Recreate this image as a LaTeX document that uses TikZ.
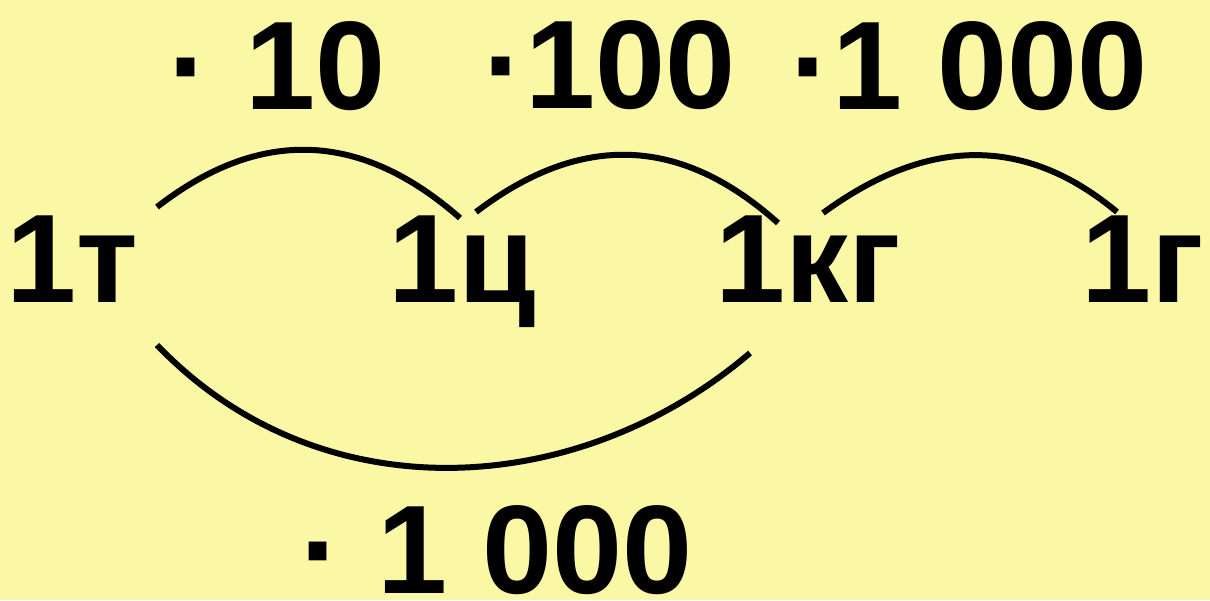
\documentclass[tikz,border=0pt]{standalone}
\usepackage{fontspec}
\setmainfont{Liberation Sans}
\definecolor{bg}{HTML}{FAF8A4}
\begin{document}
\begin{tikzpicture}[x=1pt,y=-1pt,
  lbl/.style={anchor=base west,inner sep=0pt,font=\fontsize{126}{126}\selectfont\bfseries},
  arcline/.style={line width=6pt,black}]
\fill[bg] (0,0) rectangle (1210,600);
\useasboundingbox (0,0) rectangle (1210,600);
% units
\node[lbl] (t) at (6,302) {1т};
\node[lbl] (c) at (388,302) {1ц};
\node[lbl] (kg) at (715,302) {1кг};
\node[lbl] (g) at (1081,302) {1г};
% factors
\node[lbl] (f1) at (168,109) {· 10};
\node[lbl] (f2) at (483,108) {·100};
\node[lbl] (f3) at (790,109) {·1 000};
\node[lbl] (f4) at (300,593) {· 1 000};
% arc end points
\coordinate (a1s) at (157,207); \coordinate (a1e) at (460,218);
\coordinate (a2s) at (476,212); \coordinate (a2e) at (778,223);
\coordinate (a3s) at (823,213); \coordinate (a3e) at (1117,212);
\coordinate (a4s) at (157,345); \coordinate (a4e) at (750,353);
\draw[arcline] (a1s) .. controls (260,127) and (361,131) .. (a1e);
\draw[arcline] (a2s) .. controls (581,132) and (681,136) .. (a2e);
\draw[arcline] (a3s) .. controls (928,136) and (1026,136) .. (a3e);
\draw[arcline] (a4s) .. controls (320,515) and (578,500) .. (a4e);
\end{tikzpicture}
\end{document}
